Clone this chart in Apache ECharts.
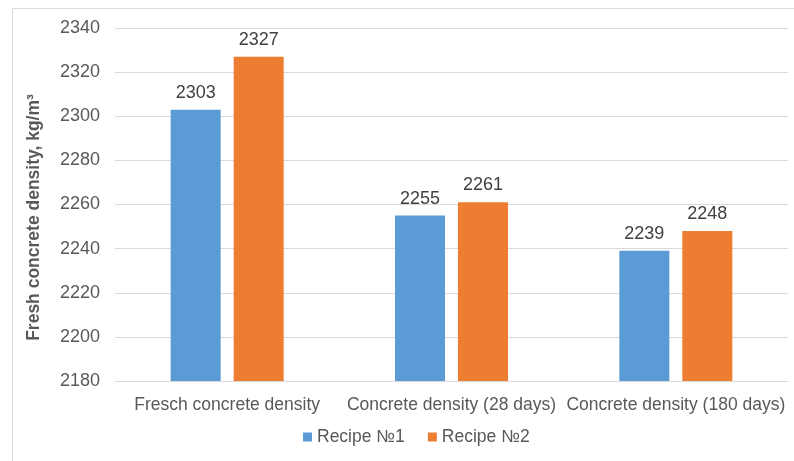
<!DOCTYPE html>
<html>
<head>
<meta charset="utf-8">
<script src="https://cdn.jsdelivr.net/npm/echarts@6/dist/echarts.min.js"></script>
<style>
  html, body { margin: 0; padding: 0; background: #fff; }
  #main { width: 794px; height: 461px; }
</style>
</head>
<body>
<div id="main"></div>
<script>
var categories = ['Fresch concrete density', 'Concrete density (28 days)', 'Concrete density (180 days)'];
var recipe1 = [2303, 2255, 2239];
var recipe2 = [2327, 2261, 2248];
var seriesNames = ['Recipe №1', 'Recipe №2'];

var myChart = echarts.init(document.getElementById('main'));
var font = 'Arial, "Liberation Sans", sans-serif';
var labelStyle = {
    show: true,
    position: 'top',
    distance: 8,
    color: '#404040',
    fontSize: 18,
    fontFamily: font
};
var option = {
    animation: false,
    graphic: [{
        type: 'rect',
        shape: { x: 12.5, y: 8.5, width: 900, height: 600 },
        style: { fill: 'none', stroke: '#d9d9d9', lineWidth: 1 },
        silent: true
    }],
    grid: {
        left: 115,
        right: 6,
        top: 28,
        bottom: 80
    },
    legend: {
        data: seriesNames,
        bottom: 10,
        left: 298,
        icon: 'rect',
        itemWidth: 9,
        itemHeight: 9,
        itemGap: 23,
        itemStyle: { borderWidth: 0 },
        textStyle: {
            color: '#595959',
            fontSize: 17.5,
            fontFamily: font
        }
    },
    xAxis: {
        type: 'category',
        data: categories,
        axisTick: { show: false },
        axisLine: { lineStyle: { color: '#d9d9d9', width: 1 } },
        axisLabel: {
            color: '#595959',
            fontSize: 17.5,
            fontFamily: font,
            margin: 15,
            interval: 0
        }
    },
    yAxis: {
        type: 'value',
        min: 2180,
        max: 2340,
        interval: 20,
        name: 'Fresh concrete density, kg/m³',
        nameLocation: 'middle',
        nameGap: 72,
        nameTextStyle: {
            color: '#595959',
            fontSize: 17.5,
            fontWeight: 'bold',
            fontFamily: font,
            padding: [0, 26, 0, 0]
        },
        axisLine: { show: false },
        axisTick: { show: false },
        splitLine: { lineStyle: { color: '#d9d9d9', width: 1 } },
        axisLabel: {
            color: '#595959',
            fontSize: 18,
            fontFamily: font,
            margin: 15,
            formatter: function (v) { return String(v); }
        }
    },
    series: [{
        name: seriesNames[0],
        type: 'bar',
        data: recipe1,
        barWidth: 50,
        barGap: '26%',
        itemStyle: { color: '#5b9bd5' },
        label: labelStyle
    }, {
        name: seriesNames[1],
        type: 'bar',
        data: recipe2,
        barWidth: 50,
        itemStyle: { color: '#ed7d31' },
        label: labelStyle
    }]
};
myChart.setOption(option);
</script>
</body>
</html>
